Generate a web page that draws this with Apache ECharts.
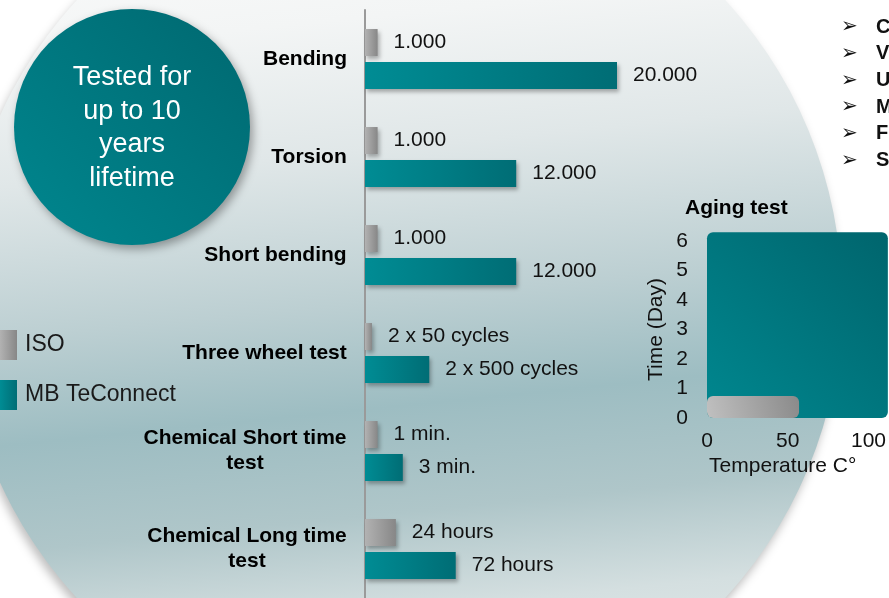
<!DOCTYPE html>
<html>
<head>
<meta charset="utf-8">
<script src="https://cdn.jsdelivr.net/npm/echarts@6/dist/echarts.min.js"></script>
<style>
html, body { margin: 0; padding: 0; background: #fff; }
#chart { width: 889px; height: 598px; }
</style>
</head>
<body>
<div id="chart"></div>
<script>
// test categories, top to bottom
var categories = ['Bending', 'Torsion', 'Short bending', 'Three wheel test', 'Chemical Short time\ntest', 'Chemical Long time\ntest'];
// bar lengths (same scale as the 20.000 bending bar)
var isoValues = [1000, 1000, 1000, 550, 1000, 2450];
var mbValues = [20000, 12000, 12000, 5100, 3000, 7200];
var isoLabels = ['1.000', '1.000', '1.000', '2 x 50 cycles', '1 min.', '24 hours'];
var mbLabels = ['20.000', '12.000', '12.000', '2 x 500 cycles', '3 min.', '72 hours'];

// aging test: [temperature C°, time in days]
var agingIso = [57, 0.75];
var agingMb = [112, 6.3];
var tempTicks = [0, 50, 100];
var dayTicks = [0, 1, 2, 3, 4, 5, 6];

var bulletLetters = ['C', 'V', 'U', 'M', 'F', 'S'];

var FONT = '"Liberation Sans", Arial, sans-serif';

var chart = echarts.init(document.getElementById('chart'));

function hGrad(a, b) {
  return new echarts.graphic.LinearGradient(0, 0, 1, 0, [{offset: 0, color: a}, {offset: 1, color: b}]);
}
var tealBar = hGrad('#008c94', '#006d75');
var greyBar = hGrad('#b2b2b2', '#878787');

// multi-line category labels are centred inside a right-aligned block
var ctx = document.createElement('canvas').getContext('2d');
ctx.font = 'bold 21px ' + FONT;
var catRich = {};
categories.forEach(function (c, i) {
  var w = Math.max.apply(null, c.split('\n').map(function (s) { return ctx.measureText(s).width; }));
  catRich['c' + i] = {width: Math.ceil(w), align: 'center', fontSize: 21, fontWeight: 'bold', color: '#000', lineHeight: 25};
});

function agingRect(params, api) {
  var p0 = api.coord([0, 0]);
  var p1 = api.coord([api.value(0), api.value(1)]);
  return {
    type: 'rect',
    shape: {x: p0[0], y: p1[1], width: p1[0] - p0[0], height: p0[1] - p1[1], r: 6},
    style: api.style()
  };
}

var bulletGraphics = [];
bulletLetters.forEach(function (l, i) {
  var y = 27 + i * 26.7;
  bulletGraphics.push({type: 'text', x: 841, y: y, style: {text: '\u27A2', font: '20px "DejaVu Sans"', fill: '#111', textVerticalAlign: 'middle'}});
  bulletGraphics.push({type: 'text', x: 876, y: y, style: {text: l, font: 'bold 20px ' + FONT, fill: '#111', textVerticalAlign: 'middle'}});
});

var option = {
  backgroundColor: '#ffffff',
  textStyle: {fontFamily: FONT},
  animation: false,
  title: {
    text: 'Aging test', left: 685, top: 198, padding: 0,
    textStyle: {fontSize: 21, fontWeight: 'bold', color: '#000', fontFamily: FONT}
  },
  legend: {
    data: ['ISO', 'MB TeConnect'],
    orient: 'vertical', left: 0, top: 330, padding: 0,
    icon: 'rect', itemWidth: 17, itemHeight: 30, itemGap: 20,
    itemStyle: {shadowBlur: 0, shadowOffsetX: 0, shadowOffsetY: 0},
    textStyle: {fontSize: 23, color: '#1a1a1a', padding: [0, 0, 0, 3]}
  },
  graphic: [
    {
      type: 'circle', z: -10, silent: true,
      shape: {cx: 401, cy: 299, r: 441},
      style: {
        fill: new echarts.graphic.LinearGradient(0.45, 0, 0.55, 1, [
          {offset: 0, color: '#fdfdfd'},
          {offset: 0.18, color: '#f3f5f5'},
          {offset: 0.33, color: '#e0e7e8'},
          {offset: 0.5, color: '#bccfd2'},
          {offset: 0.62, color: '#9dbdc2'},
          {offset: 0.74, color: '#afc6c9'},
          {offset: 0.85, color: '#d4dfe0'},
          {offset: 1, color: '#e8eded'}
        ]),
        shadowBlur: 10, shadowColor: 'rgba(0,0,0,0.25)', shadowOffsetX: -2, shadowOffsetY: 6
      }
    },
    {
      type: 'circle', silent: true,
      shape: {cx: 132, cy: 127, r: 118},
      style: {
        fill: new echarts.graphic.LinearGradient(0, 1, 1, 0, [
          {offset: 0, color: '#00878f'},
          {offset: 1, color: '#006870'}
        ]),
        shadowBlur: 10, shadowColor: 'rgba(0,0,0,0.35)', shadowOffsetX: 3, shadowOffsetY: 4
      }
    },
    {
      type: 'text', silent: true, x: 132, y: 128,
      style: {
        text: 'Tested for\nup to 10\nyears\nlifetime',
        font: '27px ' + FONT, fill: '#ffffff', lineHeight: 33.5,
        textAlign: 'center', textVerticalAlign: 'middle'
      }
    }
  ].concat(bulletGraphics),
  grid: [
    {left: 365, top: 10, width: 252, height: 590},
    {left: 707, top: 241, width: 162, height: 177}
  ],
  xAxis: [
    {type: 'value', gridIndex: 0, min: 0, max: 20000, show: false},
    {
      type: 'value', gridIndex: 1,
      min: tempTicks[0], max: tempTicks[tempTicks.length - 1], interval: tempTicks[1] - tempTicks[0],
      axisLine: {show: false}, axisTick: {show: false}, splitLine: {show: false},
      axisLabel: {fontSize: 21, color: '#111', margin: 13},
      name: 'Temperature C°', nameLocation: 'middle', nameGap: 38,
      nameTextStyle: {fontSize: 21, color: '#111', padding: [0, 10, 0, 0]}
    }
  ],
  yAxis: [
    {
      type: 'category', gridIndex: 0, inverse: true, data: categories,
      axisLine: {lineStyle: {color: '#9a9a9a', width: 2}},
      axisTick: {show: false},
      axisLabel: {
        margin: 18, align: 'right', rich: catRich,
        formatter: function (v, i) {
          return v.split('\n').map(function (s) { return '{c' + i + '|' + s + '}'; }).join('\n');
        }
      }
    },
    {
      type: 'value', gridIndex: 1,
      min: dayTicks[0], max: dayTicks[dayTicks.length - 1], interval: dayTicks[1] - dayTicks[0],
      axisLine: {show: false}, axisTick: {show: false}, splitLine: {show: false},
      axisLabel: {fontSize: 21, color: '#111', margin: 19},
      name: 'Time (Day)', nameLocation: 'middle', nameGap: 40, nameRotate: 90,
      nameTextStyle: {fontSize: 21, color: '#111'}
    }
  ],
  series: [
    {
      name: 'ISO', type: 'bar', xAxisIndex: 0, yAxisIndex: 0,
      data: isoValues, barWidth: 27, barGap: '22%',
      itemStyle: {color: greyBar, shadowBlur: 4, shadowOffsetX: 2, shadowOffsetY: 3, shadowColor: 'rgba(0,0,0,0.3)'},
      label: {
        show: true, position: 'right', distance: 16, fontSize: 21, color: '#111',
        formatter: function (p) { return isoLabels[p.dataIndex]; }
      }
    },
    {
      name: 'MB TeConnect', type: 'bar', xAxisIndex: 0, yAxisIndex: 0,
      data: mbValues, barWidth: 27, barGap: '22%',
      itemStyle: {color: tealBar, shadowBlur: 4, shadowOffsetX: 2, shadowOffsetY: 3, shadowColor: 'rgba(0,0,0,0.3)'},
      label: {
        show: true, position: 'right', distance: 16, fontSize: 21, color: '#111',
        formatter: function (p) { return mbLabels[p.dataIndex]; }
      }
    },
    {
      name: 'Aging MB', type: 'custom', xAxisIndex: 1, yAxisIndex: 1,
      data: [agingMb], clip: false, renderItem: agingRect,
      itemStyle: {
        color: new echarts.graphic.LinearGradient(0, 1, 1, 0, [
          {offset: 0, color: '#00878f'}, {offset: 1, color: '#00656d'}
        ])
      }
    },
    {
      name: 'Aging ISO', type: 'custom', xAxisIndex: 1, yAxisIndex: 1,
      data: [agingIso], clip: false, renderItem: agingRect,
      itemStyle: {
        color: new echarts.graphic.LinearGradient(0, 1, 1, 0, [
          {offset: 0, color: '#c0c0c0'}, {offset: 1, color: '#8a8a8a'}
        ])
      }
    }
  ]
};
chart.setOption(option);
</script>
</body>
</html>
